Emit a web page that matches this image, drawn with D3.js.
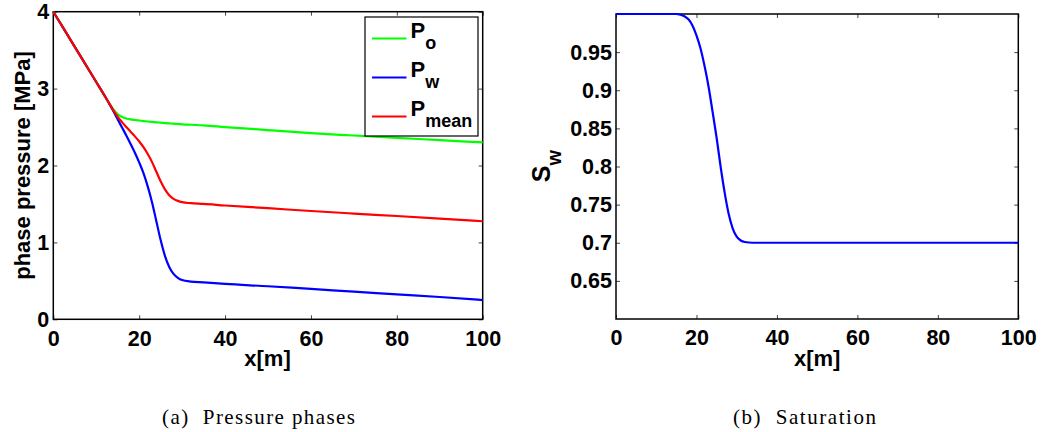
<!DOCTYPE html>
<html><head><meta charset="utf-8">
<script src="https://cdn.jsdelivr.net/npm/d3@7"></script>
<style>body{margin:0;background:#fff} svg{display:block}</style>
</head><body><svg id="c" width="1053" height="432"></svg>
<script>
// ---- data ----
const pressureX = [0,5,10,12,13,14,15,16,17,18,19,20,21,22,23,24,25,26,27,28,29,30,32,35,40,50,60,70,80,90,100];
const po    = [4.0,3.543,3.086,2.903,2.812,2.728,2.665,2.632,2.612,2.600,2.592,2.585,2.578,2.572,2.567,2.562,2.557,2.552,2.548,2.544,2.540,2.536,2.530,2.522,2.500,2.460,2.420,2.390,2.360,2.330,2.300];
const pw    = [4.0,3.543,3.086,2.903,2.805,2.705,2.600,2.495,2.390,2.280,2.165,2.040,1.900,1.725,1.520,1.275,1.030,0.825,0.680,0.590,0.540,0.510,0.490,0.480,0.460,0.430,0.395,0.360,0.325,0.290,0.250];
const pmean = [4.0,3.543,3.086,2.903,2.809,2.717,2.633,2.564,2.501,2.440,2.379,2.313,2.239,2.149,2.044,1.919,1.794,1.689,1.614,1.567,1.540,1.523,1.510,1.501,1.480,1.445,1.408,1.375,1.343,1.310,1.275];
const swX = [0,10,15,16,17,18,19,20,21,22,23,24,25,26,27,28,29,30,31,32,34,40,60,80,100];
const sw  = [1.0,1.0,1.0,0.999,0.997,0.993,0.985,0.972,0.955,0.932,0.905,0.872,0.838,0.800,0.766,0.738,0.719,0.708,0.703,0.701,0.700,0.700,0.700,0.700,0.700];
const xTicks = [0,20,40,60,80,100];
const xTickLabels = ["0","20","40","60","80","100"];
const pTicks = [0,1,2,3,4];
const pTickLabels = ["0","1","2","3","4"];
const swTicks = [0.65,0.7,0.75,0.8,0.85,0.9,0.95];
const swTickLabels = ["0.65","0.7","0.75","0.8","0.85","0.9","0.95"];
const legendSubs = ["o","w","mean"];
const seriesColors = ["#00ff00","#0000ff","#ff0000"];
const captions = ["(a)  Pressure phases","(b)  Saturation"];

// ---- drawing ----
const SANS = '"Liberation Sans", Arial, sans-serif';
const svg = d3.select("#c");
svg.append("rect").attr("width",1053).attr("height",432).attr("fill","#fff");

function panel(b, yDom, yTicks, yLabels) {
  const x = d3.scaleLinear().domain([0,100]).range([b.x0,b.x1]);
  const y = d3.scaleLinear().domain(yDom).range([b.y1,b.y0]);
  const g = svg.append("g");
  const ax = (axis, tr) => g.append("g").attr("transform", tr).call(axis)
      .call(s => s.select(".domain").remove());
  ax(d3.axisBottom(x).tickValues(xTicks).tickSize(-4).tickPadding(11).tickFormat((d,i)=>xTickLabels[i]), `translate(0,${b.y1})`);
  ax(d3.axisTop(x).tickValues(xTicks).tickSize(-4).tickFormat(""), `translate(0,${b.y0})`);
  ax(d3.axisLeft(y).tickValues(yTicks).tickSize(-4).tickPadding(4).tickFormat((d,i)=>yLabels[i]), `translate(${b.x0},0)`);
  ax(d3.axisRight(y).tickValues(yTicks).tickSize(-4).tickFormat(""), `translate(${b.x1},0)`);
  g.selectAll(".tick text").attr("font-size",21.5).attr("font-weight","bold")
    .attr("fill","#000").attr("font-family",SANS);
  g.selectAll(".tick line").attr("stroke","#444").attr("stroke-width",1);
  g.append("rect").attr("x",b.x0).attr("y",b.y0).attr("width",b.x1-b.x0).attr("height",b.y1-b.y0)
    .attr("fill","none").attr("stroke","#000").attr("stroke-width",1.5);
  return {x, y, g};
}

function drawLine(p, xs, ys, color) {
  const line = d3.line().x(d=>p.x(d[0])).y(d=>p.y(d[1])).curve(d3.curveMonotoneX);
  p.g.append("path").datum(xs.map((v,i)=>[v, ys[i]]))
    .attr("d", line).attr("fill","none").attr("stroke",color)
    .attr("stroke-width",2.2).attr("stroke-linejoin","round");
}

// Left panel
const L = {x0:53.3, x1:482.7, y0:11.7, y1:319.3};
const pl = panel(L, [0,4], pTicks, pTickLabels);
[po, pw, pmean].forEach((s,i) => drawLine(pl, pressureX, s, seriesColors[i]));

pl.g.append("text").attr("x",(L.x0+L.x1)/2 - 0.5).attr("y",366)
  .attr("text-anchor","middle").attr("font-family",SANS).attr("font-weight","bold")
  .attr("font-size",22).text("x[m]");
pl.g.append("text").attr("transform",`translate(29.5,${(L.y0+L.y1)/2}) rotate(-90)`)
  .attr("text-anchor","middle").attr("font-family",SANS).attr("font-weight","bold")
  .attr("font-size",22).text("phase pressure [MPa]");

// Legend
const lg = pl.g.append("g");
lg.append("rect").attr("x",365).attr("y",17).attr("width",113).attr("height",119)
  .attr("fill","#fff").attr("stroke","#000").attr("stroke-width",1.2);
const legY = [37.5, 76.5, 115.5];
legendSubs.forEach((sub,i) => {
  lg.append("line").attr("x1",372).attr("x2",406.5).attr("y1",legY[i]+1).attr("y2",legY[i]+1)
    .attr("stroke",seriesColors[i]).attr("stroke-width",2.2);
  const t = lg.append("text").attr("x",410.5).attr("y",legY[i])
    .attr("font-family",SANS).attr("font-weight","bold").attr("font-size",22);
  t.append("tspan").text("P");
  t.append("tspan").attr("dy",11).attr("font-size",18).text(sub);
});

// Right panel
const R = {x0:616, x1:1018.3, y0:14, y1:319};
const pr = panel(R, [0.6,1.0], swTicks, swTickLabels);
drawLine(pr, swX, sw, "#0000ff");
pr.g.append("text").attr("x",(R.x0+R.x1)/2).attr("y",366)
  .attr("text-anchor","middle").attr("font-family",SANS).attr("font-weight","bold")
  .attr("font-size",22).text("x[m]");
const sl = pr.g.append("text").attr("transform",`translate(550,166) rotate(-90)`)
  .attr("text-anchor","middle").attr("font-family",SANS).attr("font-weight","bold");
sl.append("tspan").attr("font-size",25).text("S");
sl.append("tspan").attr("font-size",20).attr("dy",10.5).text("w");

// Captions
const capX = [162, 733], capW = [193, 143];
captions.forEach((c,i) => {
  svg.append("text").attr("x",capX[i]).attr("y",424)
    .attr("font-family",'"Liberation Serif", "Times New Roman", serif').attr("font-size",21)
    .attr("textLength",capW[i]).attr("lengthAdjust","spacing")
    .style("white-space","pre").attr("fill","#000").text(c);
});
</script></body></html>
